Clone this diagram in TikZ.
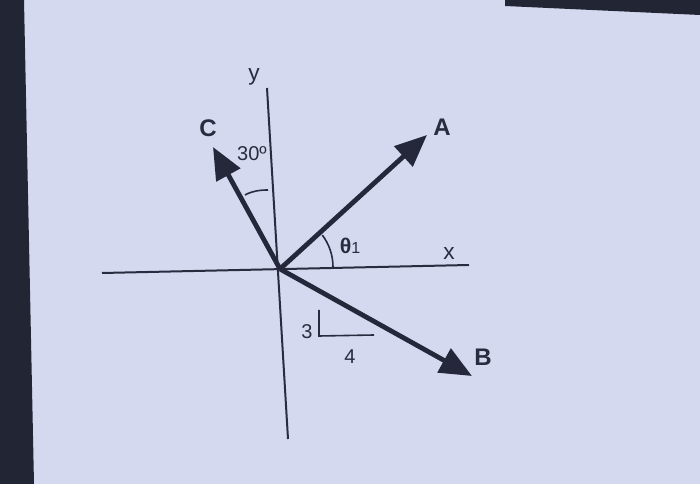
\documentclass[tikz,border=0pt]{standalone}
\usepackage{fontspec}
\setmainfont{Liberation Sans}
\usetikzlibrary{arrows.meta}

\begin{document}
\begin{tikzpicture}[x=0.75pt,y=0.75pt,yscale=-1,xscale=1,
  axis/.style={color={rgb, 255:red, 40; green, 44; blue, 62 },line width=1.5},
  vec/.style={color={rgb, 255:red, 36; green, 40; blue, 58 },line width=3.6,
    -{Triangle[length=24pt,width=20pt]}},
  lbl/.style={inner sep=0.75pt,color={rgb, 255:red, 40; green, 44; blue, 62 }}]
\useasboundingbox (0,0) rectangle (700,484);

%Shape: screen background
\fill [color={rgb, 255:red, 212; green, 217; blue, 240 }] (0,0) rectangle (700,484);
%Shape: dark edges of the photo
\fill [color={rgb, 255:red, 34; green, 38; blue, 52 }] (0,0) -- (24,0) -- (34,484) -- (0,484) -- cycle;
\fill [color={rgb, 255:red, 34; green, 38; blue, 52 }] (505,0) -- (700,0) -- (700,15) -- (505,6) -- cycle;

\coordinate (O) at (280,269);
\coordinate (xl) at (102,273);
\coordinate (xr) at (469,265);
\coordinate (yt) at (267,88);
\coordinate (yb) at (288,439);
\coordinate (tipA) at (427,135);
\coordinate (tipB) at (472,376);
\coordinate (tipC) at (213,147);

%Straight Lines: axes
\draw [axis] (xl) -- (xr);
\draw [axis] (yt) -- (yb);

%Straight Lines: vectors
\draw [vec] (O) -- (tipA);
\draw [vec] (O) -- (tipB);
\draw [vec] (O) -- (tipC);

%Arcs: angle marks
\draw [axis,line width=1.2] (333,267) arc[start angle=0,end angle=-37,radius=53];
\draw [axis,line width=1.2] (245,195) .. controls (252,191) and (260,190) .. (268,190);

%Straight Lines: slope triangle
\coordinate (sc) at (319,336);
\draw [axis,line width=1.2] (319,310) -- (sc) -- (374,335);

% Text Node
\node [lbl] (ylab) at (254,77) {\fontsize{17}{19}\selectfont y};
\node [lbl] (xlab) at (449,254) {\fontsize{17}{19}\selectfont x};
\node [lbl] (Alab) at (442,127) {\fontsize{18}{20}\selectfont\bfseries A};
\node [lbl] (Blab) at (483,357) {\fontsize{18}{20}\selectfont\bfseries B};
\node [lbl] (Clab) at (208,128) {\fontsize{18}{20}\selectfont\bfseries C};
\node [lbl] (ang) at (252,154) {\fontsize{15}{17}\selectfont 30º};
\node [lbl] (th) at (350,246) {\fontsize{16}{18}\selectfont\bfseries θ{\fontsize{12}{13}\selectfont\mdseries 1}};
\node [lbl] (three) at (307,332) {\fontsize{15}{17}\selectfont 3};
\node [lbl] (four) at (350,357) {\fontsize{15}{17}\selectfont 4};

\end{tikzpicture}
\end{document}
